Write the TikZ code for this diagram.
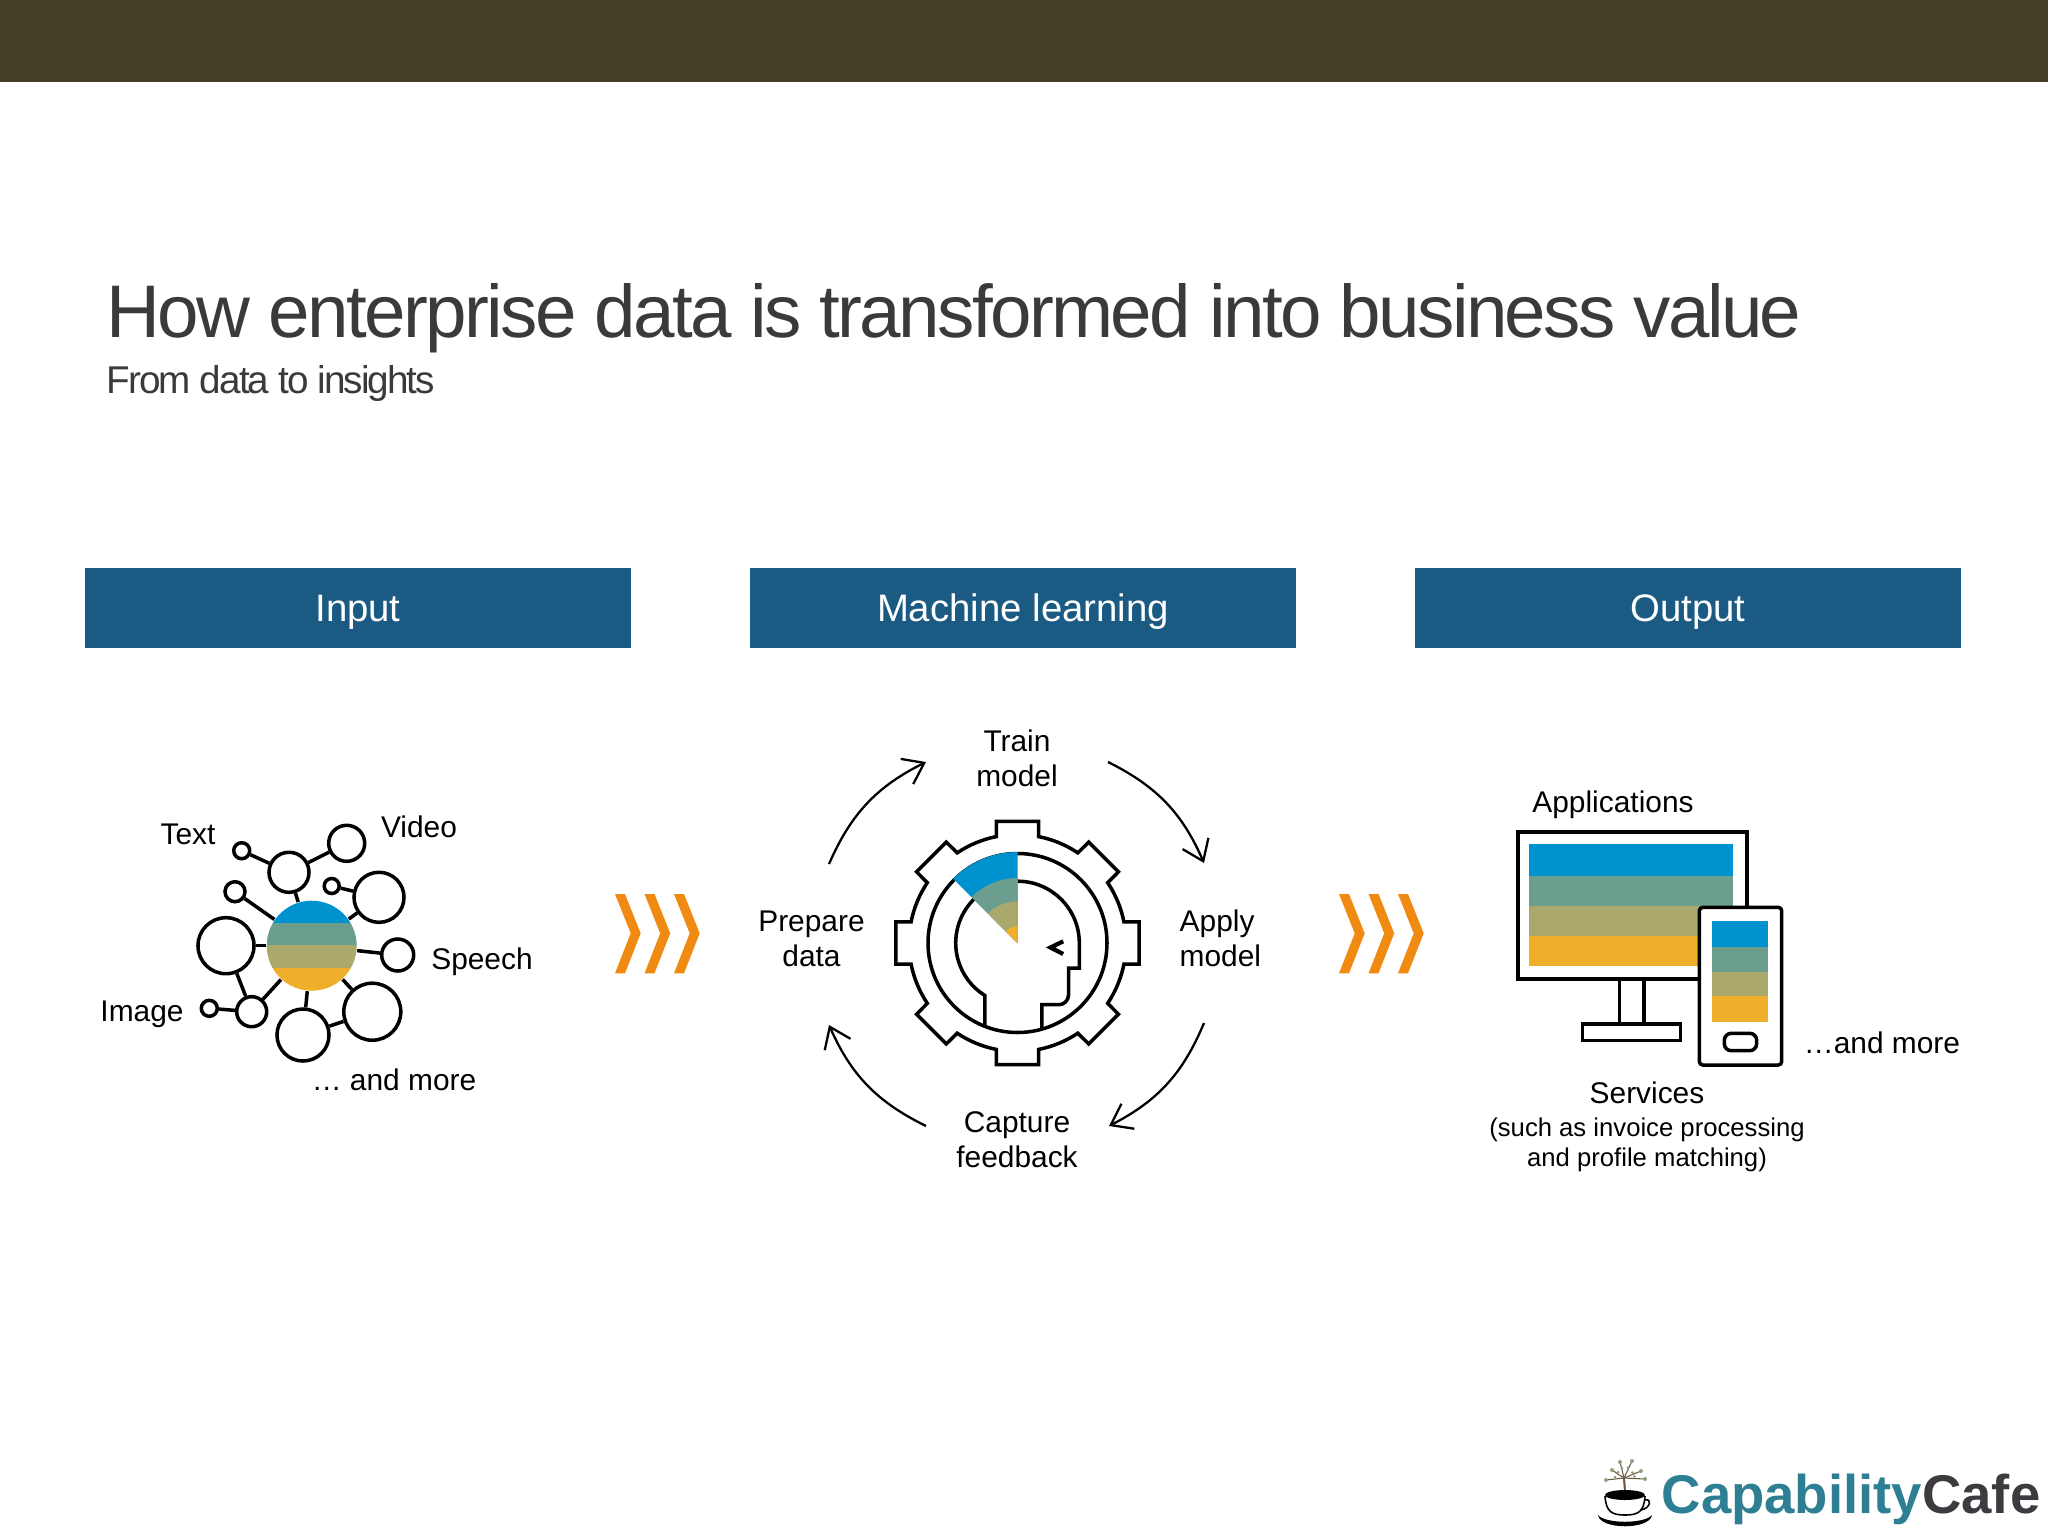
\documentclass[tikz,border=0pt]{standalone}
\usepackage{fontspec}
\usepackage{xcolor}
\usepackage{tikz}
\usetikzlibrary{arrows.meta}
\usetikzlibrary{positioning}
\setmainfont{Liberation Sans}
\newfontfamily\titlefont[LetterSpace=-3.5]{Liberation Sans}
\newfontfamily\subtitlefont[LetterSpace=-5]{Liberation Sans}

\definecolor{barolive}{HTML}{453F28}
\definecolor{panelblue}{HTML}{1B5A83}
\definecolor{titlegrey}{HTML}{3A3A3C}
\definecolor{chevronorange}{HTML}{F08A12}
\definecolor{stripeblue}{HTML}{0092CF}
\definecolor{stripeteal}{HTML}{6B9E8F}
\definecolor{stripeolive}{HTML}{ABA86C}
\definecolor{stripeamber}{HTML}{F0AF2A}
\definecolor{logoteal}{HTML}{2E7F93}
\definecolor{logogrey}{HTML}{3C3C40}
\definecolor{logotree}{HTML}{6B5A3E}
\definecolor{logoleaf}{HTML}{8FA382}

\begin{document}
\begin{tikzpicture} [
            x = 0.01cm,
            y = -0.01cm,
            % ----- Node definitions ----- %
            panelnode/.style = {
                draw = none,
                rectangle,
                fill = panelblue,
                text = white,
                minimum width = 5.46cm,
                minimum height = 0.8cm,
                text height = 7.5pt,
                text depth = 0pt,
                font = \fontsize{10.9}{13}\selectfont
            },
            labelnode/.style = {
                inner sep = 0pt,
                align = center,
                font = \fontsize{8.5}{10}\selectfont
            },
            smallnode/.style = {
                inner sep = 0pt,
                align = center,
                font = \fontsize{7.3}{8.7}\selectfont
            },
            leafnode/.style = {
                draw,
                circle,
                inner sep = 0pt,
                fill = white,
                line width = 1pt
            },
            iconline/.style = {
                draw,
                line width = 1pt
            },
            cyclearrow/.style = {
                draw,
                line width = 0.65pt,
                -{Straight Barb[length = 5.5pt, width = 8pt]}
            },
    ]
    \useasboundingbox (0,0) rectangle (2048,1536);
    \fill[white] (0,0) rectangle (2048,1536);
    \fill[barolive] (0,0) rectangle (2048,82);

            % ----- Titles ----- %
        \node [anchor = base west, inner sep = 0pt, text = titlegrey, font = \fontsize{21.2}{25}\titlefont] (title) at (106,337.5) {How enterprise data is transformed into business value};
        \node [anchor = base west, inner sep = 0pt, text = titlegrey, font = \fontsize{11}{13}\subtitlefont] (subtitle) at (106,393.5) {From data to insights};

        \node [panelnode] (input) at (358,608) {Input};
        \node [panelnode] (learning) at (1023,608) {Machine learning};
        \node [panelnode] (output) at (1688,608) {Output};

            % ----- Input network ----- %
        \foreach \name/\px/\py/\rad in {
                leafleft/226/945.7/28, leafimage/251.7/1011.7/15, leafdot/209.3/1008.3/8,
                leafbottom/303/1035/26, leafcorner/372.3/1011.7/28.5, leafspeech/397.7/955/16,
                leafupper/379/897.3/25, leafspot/331.7/886/7.5, leaftop/289/872.3/20,
                leaftext/241.7/850.7/8, leafvideo/346.7/843.3/18, leafside/235/891.7/10} {
            \node [leafnode, minimum size = \rad*0.02cm] (\name) at (\px,\py) {};
        }
        \begin{scope}
            \clip (311.7,945.7) circle [radius = 45];
            \fill[stripeblue] (260,900) rectangle (360,923);
            \fill[stripeteal] (260,923) rectangle (360,945);
            \fill[stripeolive] (260,945) rectangle (360,968);
            \fill[stripeamber] (260,968) rectangle (360,995);
        \end{scope}
        \node [circle, inner sep = 0pt, minimum size = 0.9cm] (hub) at (311.7,945.7) {};
        \foreach \from/\to in {
                hub/leaftop, leaftop/leaftext, leaftop/leafvideo, hub/leafside, hub/leafupper,
                leafupper/leafspot, hub/leafspeech, hub/leafleft, leafleft/leafimage,
                leafimage/leafdot, hub/leafimage, hub/leafbottom, leafbottom/leafcorner,
                hub/leafcorner} {
            \draw [line width = 1pt] (\from) -- (\to);
        }
        \node [labelnode] (textlabel) at (188,834) {Text};
        \node [labelnode] (videolabel) at (419,827) {Video};
        \node [labelnode] (speechlabel) at (482,962) {Speech};
        \node [labelnode] (imagelabel) at (142,1014) {Image};
        \node [labelnode] (morein) at (394,1080) {\dots{} and more};

            % ----- Gear and head ----- %
        \begin{scope} [shift = {(1017.5,943)}, x = 0.01cm, y = 0.01cm]
            \draw [iconline]
                (-11.2:108.5)
                \foreach \a in {0,45,...,315} {
                    -- (\a-11.2:108.5) -- (\a-9.8:123.5) -- (\a+9.8:123.5) -- (\a+11.2:108.5)
                    arc [start angle = \a+11.2, end angle = \a+33.8, radius = 108.5]
                } -- cycle;
            \draw [iconline] (0,0) circle [radius = 89.5];
            \draw [iconline] (135:61.8) arc [start angle = 135, end angle = 238, radius = 61.8] -- (-32.7,-84);
            \draw [iconline] (90:61.8) arc [start angle = 90, end angle = 0, radius = 61.8]
                -- (61.8,-25) -- (51,-25) -- (51,-52) arc [start angle = 0, end angle = -90, radius = 9.7] -- (24.3,-61.7) -- (24.3,-86);
            \draw [line width = 1.2pt] (45.7,1.7) -- (33,-4.5) -- (45.7,-11);
            \fill[stripeblue] (0,0) -- (135:91) arc [start angle = 135, end angle = 90, radius = 91] -- cycle;
            \fill[stripeteal] (0,0) -- (135:65) arc [start angle = 135, end angle = 90, radius = 65] -- cycle;
            \fill[stripeolive] (0,0) -- (135:41.7) arc [start angle = 135, end angle = 90, radius = 41.7] -- cycle;
            \fill[stripeamber] (0,0) -- (135:16.7) arc [start angle = 135, end angle = 90, radius = 16.7] -- cycle;
        \end{scope}

            % ----- Learning cycle ----- %
        \node [labelnode] (train) at (1017,758) {Train\\model};
        \node [labelnode, align = left, anchor = west] (apply) at (1179,938) {Apply\\model};
        \node [labelnode] (capture) at (1017,1140) {Capture\\feedback};
        \node [labelnode] (prepare) at (811.5,939) {Prepare\\data};
        \coordinate (trainout) at (1108,762);
        \coordinate (applyin) at (1204,863);
        \coordinate (applyout) at (1204,1023);
        \coordinate (capturein) at (1109,1126);
        \coordinate (captureout) at (926,1126);
        \coordinate (preparein) at (829,1025);
        \coordinate (prepareout) at (829,864);
        \coordinate (trainin) at (926,762);
        \draw [cyclearrow] (trainout) to [bend left = 20] (applyin);
        \draw [cyclearrow] (applyout) to [bend left = 20] (capturein);
        \draw [cyclearrow] (captureout) to [bend left = 20] (preparein);
        \draw [cyclearrow] (prepareout) to [bend left = 20] (trainin);

            % ----- Chevrons ----- %
        \foreach \x in {0,29.5,59,724,753.5,783} {
            \fill[chevronorange, shift = {(\x,0)}] (615,894) -- (625,894) -- (640.7,933.3) -- (625,973.3) -- (615,973.3) -- (630.7,933.3) -- cycle;
        }

            % ----- Output devices ----- %
        \node [labelnode] (applications) at (1613,805) {Applications};
        \fill[stripeblue] (1529.3,844) rectangle (1733.3,876);
        \fill[stripeteal] (1529.3,876) rectangle (1733.3,906);
        \fill[stripeolive] (1529.3,906) rectangle (1733.3,936);
        \fill[stripeamber] (1529.3,936) rectangle (1733.3,966);
        \draw [iconline, line width = 1.15pt] (1518.3,832.3) rectangle (1746.7,979);
        \draw [iconline] (1619.3,979) -- (1619.3,1024);
        \draw [iconline] (1644,979) -- (1644,1024);
        \draw [iconline] (1582.7,1024) rectangle (1680.7,1040.7);
        \draw [iconline, fill = white, rounded corners = 1pt] (1699.3,907.3) rectangle (1781.7,1065);
        \fill[stripeblue] (1712.3,921) rectangle (1768.3,946.7);
        \fill[stripeteal] (1712.3,946.7) rectangle (1768.3,971.7);
        \fill[stripeolive] (1712.3,971.7) rectangle (1768.3,996);
        \fill[stripeamber] (1712.3,996) rectangle (1768.3,1021.7);
        \draw [iconline, rounded corners = 2pt] (1724.3,1033.3) rectangle (1756.7,1050.7);
        \node [labelnode] (moreout) at (1882,1043) {\dots and more};
        \node [labelnode] (services) at (1647,1093) {Services};
        \node [smallnode, below = 3.5pt of services] (servicesnote) {(such as invoice processing\\and profile matching)};

            % ----- Logo ----- %
        \node [anchor = base west, inner sep = 0pt, font = \fontsize{15.5}{18}\bfseries\selectfont] (logo) at (1661,1513) {\textcolor{logoteal}{Capability}\textcolor{logogrey}{Cafe}};
        \draw [logotree, line width = 0.6pt] (1625,1491) -- (1624,1478);
        \foreach \bx/\by/\px/\py in {
                1624/1478/1606/1480, 1624/1478/1612/1470, 1624/1478/1620/1462,
                1624/1478/1632/1461, 1624/1478/1641/1471, 1624/1478/1645/1479} {
            \draw [logotree, line width = 0.3pt] (\bx,\by) -- (\px,\py);
            \fill[logoleaf] (\px,\py) circle [radius = 2];
            \fill[logoleaf] (\bx/2+\px/2,\by/2+\py/2-2) circle [radius = 1.5];
        }
        \fill[black] (1625,1495) ellipse [x radius = 20, y radius = 5];
        \draw [line width = 0.45pt] (1605,1496) .. controls (1606,1512) and (1612,1515) .. (1625,1515) .. controls (1638,1515) and (1644,1512) .. (1645,1496);
        \draw [line width = 0.45pt] (1645,1500) .. controls (1652,1498) and (1651,1508) .. (1641,1510);
        \fill[black] (1598,1515) .. controls (1600,1530) and (1650,1530) .. (1652,1515) .. controls (1645,1524) and (1605,1524) .. cycle;

\end{tikzpicture}
\end{document}
